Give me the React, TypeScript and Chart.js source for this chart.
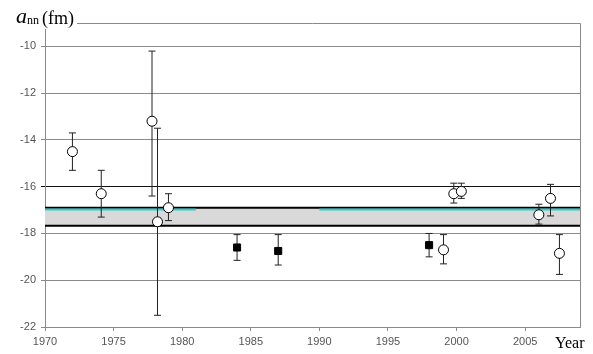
import React, { useEffect, useRef } from "react";
import { Chart, registerables } from "chart.js";

Chart.register(...registerables);

// Open-circle measurements
const circleYears = [1972, 1974.1, 1977.8, 1978.2, 1979, 1999.05, 1999.8, 2000.35, 2006, 2006.85, 2007.5];
const circleValues = [-14.5, -16.3, -13.2, -17.5, -16.9, -18.7, -16.3, -16.2, -17.2, -16.5, -18.85];
const circleLow = [-15.3, -17.3, -16.4, -21.5, -17.45, -19.3, -16.7, -16.5, -17.6, -17.25, -19.75];
const circleHigh = [-13.7, -15.3, -10.2, -13.5, -16.3, -18.05, -15.85, -15.85, -16.75, -15.9, -18.05];

// Filled-square measurements
const squareYears = [1984, 1987, 1998];
const squareValues = [-18.6, -18.75, -18.5];
const squareLow = [-19.15, -19.35, -19.0];
const squareHigh = [-18.05, -18.05, -18.0];

// Recommended band
const bandUpper = -16.9;
const bandLower = -17.67;
const cyanValue = -16.97;
const cyanSegments = [[1970, 1981], [1990, 2009]];

const xMin = 1970;
const xMax = 2009;
const yMin = -22;
const yMax = -9;
const xTicks = [1970, 1975, 1980, 1985, 1990, 1995, 2000, 2005];
const yTicks = [-22, -20, -18, -16, -14, -12, -10];

export default function App() {
  const ref = useRef<HTMLCanvasElement>(null);

  useEffect(() => {
    if (!ref.current) return;

    const errData: any[] = [];
    const addErr = (xs: number[], lo: number[], hi: number[]) => {
      xs.forEach((x, i) => {
        errData.push({ x, y: lo[i] });
        errData.push({ x, y: hi[i] });
        errData.push({ x, y: null });
      });
    };
    addErr(circleYears, circleLow, circleHigh);
    addErr(squareYears, squareLow, squareHigh);

    const cyanData: any[] = [];
    cyanSegments.forEach(([a, b]) => {
      cyanData.push({ x: a, y: cyanValue });
      cyanData.push({ x: b, y: cyanValue });
      cyanData.push({ x: b, y: null });
    });

    const framePlugin = {
      id: "frame",
      afterDraw(chart: any) {
        const { ctx, chartArea } = chart;
        ctx.save();
        ctx.strokeStyle = "#8a8a8a";
        ctx.lineWidth = 1;
        ctx.beginPath();
        ctx.moveTo(chartArea.left, Math.round(chartArea.top) + 0.5);
        ctx.lineTo(Math.round(chartArea.right) + 0.5, Math.round(chartArea.top) + 0.5);
        ctx.lineTo(Math.round(chartArea.right) + 0.5, chartArea.bottom);
        ctx.stroke();
        ctx.fillStyle = "#ffffff";
        ctx.fillRect(0, 0, 77, 29);
        ctx.fillStyle = "#000";
        ctx.textBaseline = "alphabetic";
        ctx.font = 'italic 22px "Liberation Serif", serif';
        ctx.fillText("a", 16, 23);
        ctx.font = '12px "Liberation Serif", serif';
        ctx.fillText("nn", 27, 24);
        ctx.font = '18px "Liberation Serif", serif';
        ctx.fillText("(fm)", 42, 24);
        ctx.font = '16px "Liberation Serif", serif';
        ctx.fillText("Year", 555, 348);
        ctx.restore();
      },
    };

    const chart = new Chart(ref.current, {
      type: "scatter",
      data: {
        datasets: [
          {
            label: "circles",
            data: circleYears.map((x, i) => ({ x, y: circleValues[i] })),
            pointStyle: "circle",
            pointRadius: 5,
            pointBackgroundColor: "#ffffff",
            pointBorderColor: "#000000",
            pointBorderWidth: 1,
            order: 0,
          },
          {
            label: "squares",
            data: squareYears.map((x, i) => ({ x, y: squareValues[i] })),
            pointStyle: "rect",
            pointRadius: 5,
            pointBackgroundColor: "#000000",
            pointBorderColor: "#000000",
            pointBorderWidth: 1,
            order: 0,
          },
          {
            label: "errors",
            data: errData,
            showLine: true,
            spanGaps: false,
            borderColor: "#222222",
            borderWidth: 1,
            pointStyle: "line",
            pointRadius: 3.5,
            pointBorderColor: "#222222",
            pointBorderWidth: 1,
            order: 1,
          },
          {
            label: "cyan",
            data: cyanData,
            showLine: true,
            spanGaps: false,
            borderColor: "#33cccc",
            borderWidth: 2,
            pointRadius: 0,
            order: 2,
          },
          {
            label: "upper",
            data: [
              { x: xMin, y: bandUpper },
              { x: xMax, y: bandUpper },
            ],
            showLine: true,
            borderColor: "#000000",
            borderWidth: 2,
            pointRadius: 0,
            order: 3,
          },
          {
            label: "lower",
            data: [
              { x: xMin, y: bandLower },
              { x: xMax, y: bandLower },
            ],
            showLine: true,
            borderColor: "#000000",
            borderWidth: 2,
            pointRadius: 0,
            fill: { target: 4 },
            backgroundColor: "#d9d9d9",
            order: 3,
          },
        ] as any,
      },
      options: {
        animation: false,
        responsive: false,
        devicePixelRatio: 1,
        events: [],
        layout: { padding: { top: 23, right: 13, left: 0, bottom: 0 } },
        plugins: {
          legend: { display: false },
          tooltip: { enabled: false },
        },
        scales: {
          x: {
            type: "linear",
            min: xMin,
            max: xMax,
            afterBuildTicks: (s: any) => {
              s.ticks = xTicks.map((v) => ({ value: v }));
            },
            afterFit: (s: any) => {
              s.height = 27;
            },
            grid: {
              drawOnChartArea: false,
              drawTicks: true,
              tickLength: 4,
              color: "#8a8a8a",
            },
            border: { display: true, color: "#8a8a8a" },
            ticks: {
              color: "#555555",
              font: { family: '"Liberation Sans", Arial, sans-serif', size: 11 },
              padding: 4,
              maxRotation: 0,
              callback: (v: any) => String(v),
            },
          },
          y: {
            type: "linear",
            min: yMin,
            max: yMax,
            afterBuildTicks: (s: any) => {
              s.ticks = yTicks.map((v) => ({ value: v }));
            },
            afterFit: (s: any) => {
              s.width = 45;
            },
            grid: {
              drawTicks: true,
              tickLength: 4,
              color: (c: any) => (c.tick && c.tick.value === -16 ? "#111111" : "#8a8a8a"),
            },
            border: { display: true, color: "#8a8a8a" },
            ticks: {
              color: "#555555",
              font: { family: '"Liberation Sans", Arial, sans-serif', size: 11 },
              padding: 5,
              callback: (v: any) => String(v),
            },
          },
        },
      } as any,
      plugins: [framePlugin],
    });

    return () => chart.destroy();
  }, []);

  return (
    <div style={{ position: "absolute", left: 0, top: 0, width: 593, height: 354, background: "#fff" }}>
      <canvas ref={ref} width={593} height={354} style={{ display: "block" }} />
    </div>
  );
}
